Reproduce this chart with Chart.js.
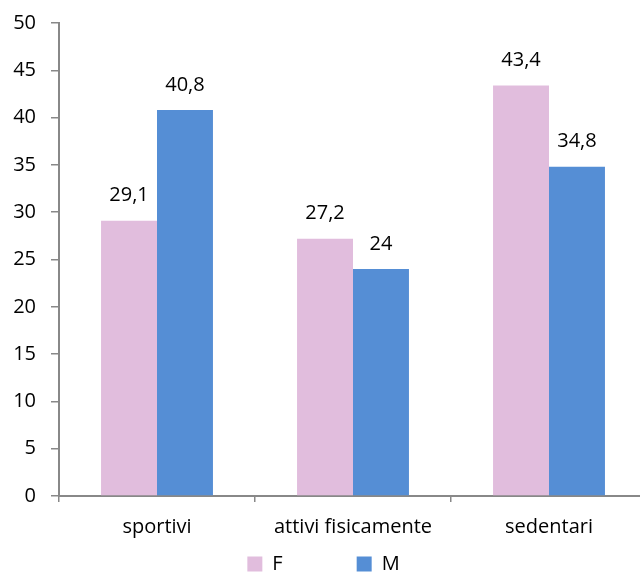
<!DOCTYPE html>
<html>
<head>
<meta charset="utf-8">
<script src="https://cdn.jsdelivr.net/npm/chart.js@4/dist/chart.umd.min.js"></script>
<style>
  html, body { margin: 0; padding: 0; background: #fff; overflow: hidden; }
  #wrap { position: relative; width: 647px; height: 572px; }
</style>
</head>
<body>
<div id="wrap"><canvas id="c"></canvas></div>
<script>
const categories = ['sportivi', 'attivi fisicamente', 'sedentari'];
const valuesF = [29.1, 27.2, 43.4];
const valuesM = [40.8, 24, 34.8];
const seriesNames = ['F', 'M'];
const yTicks = [0, 5, 10, 15, 20, 25, 30, 35, 40, 45, 50];

const FONT = { family: '"Open Sans", sans-serif', size: 20 };
const Y_FONT = { family: '"Open Sans", sans-serif', size: 20, lineHeight: 0.8 };
const AXIS = '#888888';
const LEGEND_GAP = 74;      // horizontal space between legend entries
const LEGEND_HEIGHT = 20;   // height kept for the legend row
const LEGEND_LIFT = 72;     // keeps the wide item gap from also padding the row vertically

// Writes each bar's value above it, with a decimal comma
const valueLabels = {
  id: 'valueLabels',
  afterDatasetsDraw(chart) {
    const ctx = chart.ctx;
    ctx.save();
    ctx.font = `${FONT.size}px ${FONT.family}`;
    ctx.fillStyle = '#000';
    ctx.textAlign = 'center';
    ctx.textBaseline = 'middle';
    chart.data.datasets.forEach((ds, i) => {
      chart.getDatasetMeta(i).data.forEach((bar, j) => {
        const txt = String(ds.data[j]).replace('.', ',');
        ctx.fillText(txt, bar.x, bar.y - 25);
      });
    });
    ctx.restore();
  }
};

// Compact legend row: wide spacing between entries, little space above/below
const legendRow = {
  id: 'legendRow',
  beforeLayout(chart) {
    const lg = chart.legend;
    if (!lg || lg.$compact) return;
    lg.$compact = true;
    const fit = lg.fit;
    const draw = lg.draw;
    lg.fit = function () { fit.call(this); this.height = LEGEND_HEIGHT; };
    lg.draw = function (area) {
      this.top -= LEGEND_LIFT;
      draw.call(this, area);
      this.top += LEGEND_LIFT;
    };
  }
};

new Chart(document.getElementById('c'), {
  type: 'bar',
  data: {
    labels: categories,
    datasets: [
      { label: seriesNames[0], data: valuesF, backgroundColor: '#E1BDDD' },
      { label: seriesNames[1], data: valuesM, backgroundColor: '#558ED5' }
    ]
  },
  plugins: [valueLabels, legendRow],
  options: {
    responsive: true,
    maintainAspectRatio: false,
    animation: false,
    layout: { padding: { top: 0, right: 0, bottom: 0, left: 0 } },
    datasets: { bar: { categoryPercentage: 0.571, barPercentage: 1 } },
    plugins: {
      legend: {
        position: 'bottom',
        labels: {
          font: FONT,
          color: '#000',
          boxWidth: 15,
          boxHeight: 15,
          padding: LEGEND_GAP
        }
      },
      tooltip: { enabled: false }
    },
    scales: {
      x: {
        grid: { offset: true, drawOnChartArea: false, tickLength: 6, color: AXIS, lineWidth: 1.5 },
        border: { color: AXIS, width: 2 },
        ticks: { font: FONT, color: '#000', padding: 13 }
      },
      y: {
        min: 0,
        max: 50,
        afterBuildTicks(scale) { scale.ticks = yTicks.map(v => ({ value: v })); },
        afterFit(scale) { scale.width = 59; },
        grid: { drawOnChartArea: false, tickLength: 8, color: AXIS, lineWidth: 1.5 },
        border: { color: AXIS, width: 2 },
        ticks: { font: Y_FONT, color: '#000', padding: 15 }
      }
    }
  }
});
</script>
</body>
</html>
